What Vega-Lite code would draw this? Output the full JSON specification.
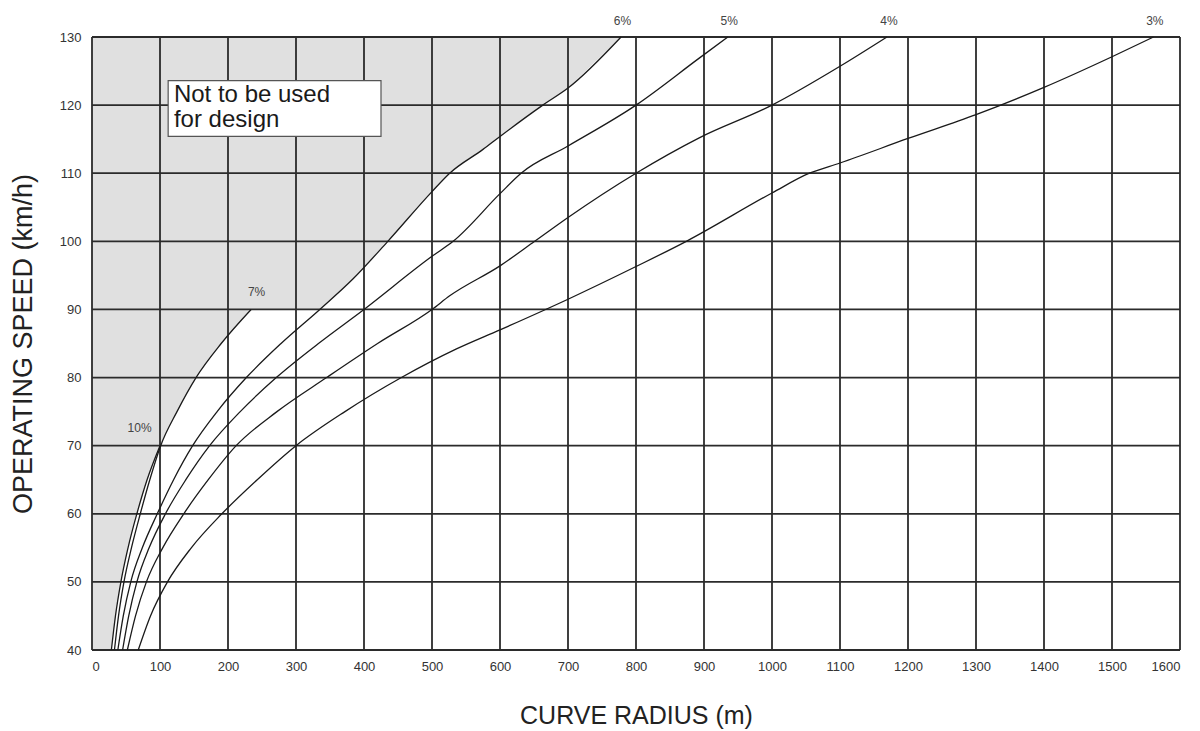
{
  "$schema": "https://vega.github.io/schema/vega-lite/v6.json",
  "width": 1088,
  "height": 613,
  "autosize": {"type": "none"},
  "padding": {"left": 92, "top": 37, "right": 20, "bottom": 81},
  "background": "white",
  "view": {"stroke": null},
  "config": {
    "axis": {"grid": false, "ticks": false, "domain": false, "labelFont": "Liberation Sans", "labelFontSize": 13, "labelColor": "#333", "titleFont": "Liberation Sans", "titleFontSize": 25, "titleFontWeight": "normal", "titleColor": "#222"}
  },
  "datasets": {
    "curves": [
      {"grade": "10%", "r": 28.5, "v": 40}, {"grade": "10%", "r": 34.5, "v": 45}, {"grade": "10%", "r": 42.5, "v": 50}, {"grade": "10%", "r": 53, "v": 55}, {"grade": "10%", "r": 66, "v": 60}, {"grade": "10%", "r": 81, "v": 65}, {"grade": "10%", "r": 100, "v": 70},
      {"grade": "7%", "r": 33, "v": 40}, {"grade": "7%", "r": 39, "v": 45}, {"grade": "7%", "r": 47, "v": 50}, {"grade": "7%", "r": 58, "v": 55}, {"grade": "7%", "r": 71, "v": 60}, {"grade": "7%", "r": 85, "v": 65}, {"grade": "7%", "r": 101, "v": 70}, {"grade": "7%", "r": 125, "v": 75}, {"grade": "7%", "r": 153, "v": 80}, {"grade": "7%", "r": 190, "v": 85}, {"grade": "7%", "r": 234, "v": 90},
      {"grade": "6%", "r": 38, "v": 40}, {"grade": "6%", "r": 46, "v": 45}, {"grade": "6%", "r": 57, "v": 50}, {"grade": "6%", "r": 74, "v": 55}, {"grade": "6%", "r": 96, "v": 60}, {"grade": "6%", "r": 120, "v": 65}, {"grade": "6%", "r": 148, "v": 70}, {"grade": "6%", "r": 184, "v": 75}, {"grade": "6%", "r": 227, "v": 80}, {"grade": "6%", "r": 278, "v": 85}, {"grade": "6%", "r": 335, "v": 90}, {"grade": "6%", "r": 384, "v": 94.5}, {"grade": "6%", "r": 435, "v": 100}, {"grade": "6%", "r": 500, "v": 107.3}, {"grade": "6%", "r": 526, "v": 110}, {"grade": "6%", "r": 575, "v": 113.5}, {"grade": "6%", "r": 600, "v": 115.4}, {"grade": "6%", "r": 663, "v": 120}, {"grade": "6%", "r": 700, "v": 122.5}, {"grade": "6%", "r": 778, "v": 130},
      {"grade": "5%", "r": 45, "v": 40}, {"grade": "5%", "r": 54, "v": 45}, {"grade": "5%", "r": 66, "v": 50}, {"grade": "5%", "r": 84, "v": 55}, {"grade": "5%", "r": 108, "v": 60}, {"grade": "5%", "r": 138, "v": 65}, {"grade": "5%", "r": 173, "v": 70}, {"grade": "5%", "r": 218, "v": 75}, {"grade": "5%", "r": 271, "v": 80}, {"grade": "5%", "r": 333, "v": 85}, {"grade": "5%", "r": 400, "v": 90}, {"grade": "5%", "r": 500, "v": 97.8}, {"grade": "5%", "r": 531, "v": 100}, {"grade": "5%", "r": 600, "v": 107}, {"grade": "5%", "r": 631, "v": 110}, {"grade": "5%", "r": 700, "v": 114}, {"grade": "5%", "r": 800, "v": 120}, {"grade": "5%", "r": 893, "v": 126.9}, {"grade": "5%", "r": 935, "v": 130},
      {"grade": "4%", "r": 52, "v": 40}, {"grade": "4%", "r": 64, "v": 45}, {"grade": "4%", "r": 80, "v": 50}, {"grade": "4%", "r": 104, "v": 55}, {"grade": "4%", "r": 135, "v": 60}, {"grade": "4%", "r": 171, "v": 65}, {"grade": "4%", "r": 212, "v": 70}, {"grade": "4%", "r": 272, "v": 75}, {"grade": "4%", "r": 345, "v": 80}, {"grade": "4%", "r": 420, "v": 85}, {"grade": "4%", "r": 500, "v": 90}, {"grade": "4%", "r": 526, "v": 92}, {"grade": "4%", "r": 600, "v": 96.4}, {"grade": "4%", "r": 651, "v": 100}, {"grade": "4%", "r": 700, "v": 103.5}, {"grade": "4%", "r": 800, "v": 110}, {"grade": "4%", "r": 893, "v": 115.2}, {"grade": "4%", "r": 1000, "v": 120}, {"grade": "4%", "r": 1100, "v": 125.7}, {"grade": "4%", "r": 1169, "v": 130},
      {"grade": "3%", "r": 68, "v": 40}, {"grade": "3%", "r": 86, "v": 45}, {"grade": "3%", "r": 111, "v": 50}, {"grade": "3%", "r": 146, "v": 55}, {"grade": "3%", "r": 191, "v": 60}, {"grade": "3%", "r": 243, "v": 65}, {"grade": "3%", "r": 300, "v": 70}, {"grade": "3%", "r": 372, "v": 75}, {"grade": "3%", "r": 455, "v": 80}, {"grade": "3%", "r": 536, "v": 84.2}, {"grade": "3%", "r": 600, "v": 87}, {"grade": "3%", "r": 700, "v": 91.5}, {"grade": "3%", "r": 800, "v": 96.3}, {"grade": "3%", "r": 874, "v": 100}, {"grade": "3%", "r": 1000, "v": 107.1}, {"grade": "3%", "r": 1055, "v": 110}, {"grade": "3%", "r": 1100, "v": 111.5}, {"grade": "3%", "r": 1200, "v": 115.1}, {"grade": "3%", "r": 1300, "v": 118.6}, {"grade": "3%", "r": 1400, "v": 122.6}, {"grade": "3%", "r": 1500, "v": 127.1}, {"grade": "3%", "r": 1561, "v": 130}
    ],
    "shade": [
      {"r": 0, "v": 40}, {"r": 28.5, "v": 40}, {"r": 34.5, "v": 45}, {"r": 42.5, "v": 50}, {"r": 53, "v": 55}, {"r": 66, "v": 60}, {"r": 81, "v": 65}, {"r": 100, "v": 70},
      {"r": 125, "v": 75}, {"r": 153, "v": 80}, {"r": 190, "v": 85}, {"r": 234, "v": 90}, {"r": 335, "v": 90},
      {"r": 384, "v": 94.5}, {"r": 435, "v": 100}, {"r": 500, "v": 107.3}, {"r": 526, "v": 110}, {"r": 575, "v": 113.5}, {"r": 600, "v": 115.4}, {"r": 663, "v": 120}, {"r": 700, "v": 122.5}, {"r": 778, "v": 130}
    ],
    "vgrid": [{"g": 0}, {"g": 100}, {"g": 200}, {"g": 300}, {"g": 400}, {"g": 500}, {"g": 600}, {"g": 700}, {"g": 800}, {"g": 900}, {"g": 1000}, {"g": 1100}, {"g": 1200}, {"g": 1300}, {"g": 1400}, {"g": 1500}, {"g": 1600}],
    "hgrid": [{"g": 40}, {"g": 50}, {"g": 60}, {"g": 70}, {"g": 80}, {"g": 90}, {"g": 100}, {"g": 110}, {"g": 120}, {"g": 130}],
    "labels": [
      {"label": "10%", "r": 70, "v": 72.6}, {"label": "7%", "r": 242, "v": 92.6},
      {"label": "6%", "r": 780, "v": 132.4}, {"label": "5%", "r": 937, "v": 132.4}, {"label": "4%", "r": 1172, "v": 132.4}, {"label": "3%", "r": 1563, "v": 132.4}
    ],
    "note": [{"r": 112, "r2": 425, "v": 123.6, "v2": 115.4, "tx": 120.5, "tv": 120.4, "text": ["Not to be used", "for design"]}]
  },
  "layer": [
    {
      "data": {"name": "shade"},
      "mark": {"type": "area", "color": "#e0e0e0", "interpolate": "linear"},
      "encoding": {
        "x": {"field": "r", "type": "quantitative", "scale": {"domain": [0, 1600], "nice": false, "zero": false},
              "axis": {"values": [0,100,200,300,400,500,600,700,800,900,1000,1100,1200,1300,1400,1500,1600], "format": "d", "labelPadding": 10, "title": "CURVE RADIUS (m)", "titlePadding": 30}},
        "y": {"field": "v", "type": "quantitative", "scale": {"domain": [40, 130], "nice": false, "zero": false},
              "axis": {"values": [40,50,60,70,80,90,100,110,120,130], "format": "d", "labelPadding": 11, "title": "OPERATING SPEED (km/h)", "titlePadding": 22, "titleFontSize": 27}},
        "y2": {"datum": 130}
      }
    },
    {
      "data": {"name": "vgrid"},
      "mark": {"type": "rule", "color": "#2b2b2b", "strokeWidth": 1.8},
      "encoding": {"x": {"field": "g", "type": "quantitative"}}
    },
    {
      "data": {"name": "hgrid"},
      "mark": {"type": "rule", "color": "#2b2b2b", "strokeWidth": 1.8},
      "encoding": {"y": {"field": "g", "type": "quantitative"}}
    },
    {
      "data": {"name": "curves"},
      "mark": {"type": "line", "color": "#1a1a1a", "strokeWidth": 1.3, "interpolate": "monotone"},
      "encoding": {
        "x": {"field": "r", "type": "quantitative"},
        "y": {"field": "v", "type": "quantitative"},
        "detail": {"field": "grade"}
      }
    },
    {
      "data": {"name": "labels"},
      "mark": {"type": "text", "font": "Liberation Sans", "fontSize": 12, "color": "#444", "clip": false},
      "encoding": {
        "x": {"field": "r", "type": "quantitative"},
        "y": {"field": "v", "type": "quantitative"},
        "text": {"field": "label"}
      }
    },
    {
      "data": {"name": "note"},
      "mark": {"type": "rect", "fill": "white", "stroke": "#555", "strokeWidth": 1.2},
      "encoding": {
        "x": {"field": "r", "type": "quantitative"},
        "x2": {"field": "r2"},
        "y": {"field": "v", "type": "quantitative"},
        "y2": {"field": "v2"}
      }
    },
    {
      "data": {"name": "note"},
      "mark": {"type": "text", "font": "Liberation Sans", "fontSize": 24, "color": "#1a1a1a", "align": "left", "baseline": "alphabetic", "lineHeight": 25},
      "encoding": {
        "x": {"field": "tx", "type": "quantitative"},
        "y": {"field": "tv", "type": "quantitative"},
        "text": {"field": "text"}
      }
    }
  ]
}
